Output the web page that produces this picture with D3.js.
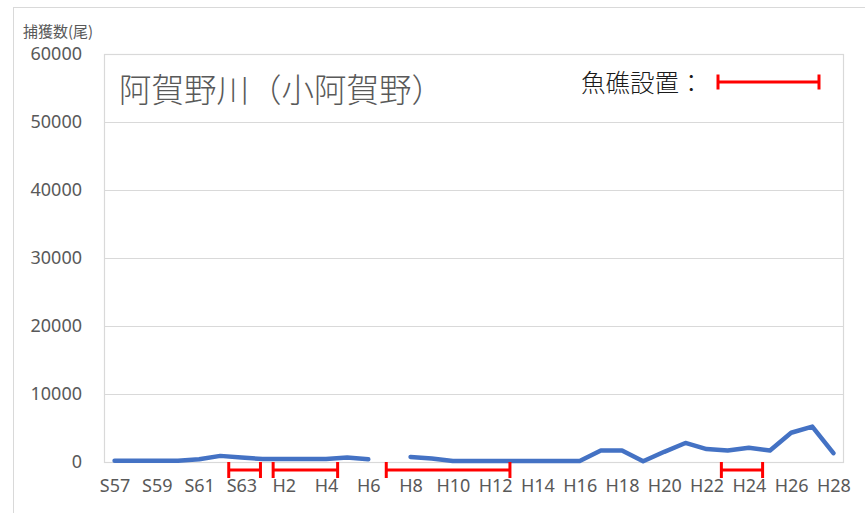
<!DOCTYPE html>
<html>
<head>
<meta charset="utf-8">
<script src="https://cdn.jsdelivr.net/npm/d3@7"></script>
<style>
  body { margin: 0; background: #fff; }
  svg { display: block; font-family: "Noto Sans CJK JP", "Noto Sans", sans-serif; }
</style>
</head>
<body>
<div id="chart"></div>
<script>
// 年度 (S57〜H28)
const years = ['S57','S58','S59','S60','S61','S62','S63',
  'H1','H2','H3','H4','H5','H6','H7','H8','H9','H10','H11','H12','H13','H14',
  'H15','H16','H17','H18','H19','H20','H21','H22','H23','H24','H25','H26','H27','H28'];

// 捕獲数(尾)  H7 は欠測
const catches = [200, 200, 200, 200, 400, 900, 650,
  450, 450, 450, 450, 650, 400, null, 750, 500, 150, 150, 150, 150, 150,
  150, 150, 1700, 1700, 100, 1500, 2800, 1900, 1700, 2100, 1700, 4300, 5200, 1300];

// 魚礁設置期間 (年度の位置、0 = S57)
const reefPeriods = [[5.4, 6.9], [7.5, 10.55], [12.85, 18.7], [28.7, 30.65]];

const yTicks = [0, 10000, 20000, 30000, 40000, 50000, 60000];
const xTickLabels = years.filter((d, i) => i % 2 === 0);

const width = 865, height = 513;
const plot = { left: 104, right: 844, top: 54, bottom: 462 };
const grey = '#d9d9d9', textCol = '#595959';

const svg = d3.select('#chart').append('svg')
  .attr('width', width).attr('height', height);

// 外枠
svg.append('rect')
  .attr('x', 13.5).attr('y', 7.5).attr('width', 870).attr('height', 520)
  .attr('fill', '#fff').attr('stroke', grey);

const x = d3.scalePoint().domain(years).range([plot.left, plot.right]).padding(0.5);
const xi = d3.scaleLinear().domain([-0.5, years.length - 0.5]).range([plot.left, plot.right]);
const y = d3.scaleLinear().domain([0, 60000]).range([plot.bottom, plot.top]);

// グリッド線
svg.append('g').selectAll('line')
  .data(yTicks)
  .join('line')
  .attr('x1', plot.left).attr('x2', plot.right)
  .attr('y1', d => Math.round(y(d)) + 0.5).attr('y2', d => Math.round(y(d)) + 0.5)
  .attr('stroke', grey).attr('stroke-width', 1.2);

// プロットエリア枠
svg.append('rect')
  .attr('x', plot.left + 0.5).attr('y', plot.top + 0.5)
  .attr('width', plot.right - plot.left - 1).attr('height', plot.bottom - plot.top)
  .attr('fill', 'none').attr('stroke', grey).attr('stroke-width', 1.2);

// Y軸
const yAxis = svg.append('g')
  .attr('transform', `translate(${plot.left - 22},0)`)
  .call(d3.axisLeft(y).tickValues(yTicks).tickSize(0).tickPadding(0).tickFormat(d3.format('d')));
yAxis.select('.domain').remove();
yAxis.selectAll('text').attr('fill', textCol).style('font-size', '18px')
  .style('font-family', '"Noto Sans", sans-serif');

// X軸
const xAxis = svg.append('g')
  .attr('transform', `translate(0,${plot.bottom + 17})`)
  .call(d3.axisBottom(x).tickValues(xTickLabels).tickSize(0).tickPadding(0));
xAxis.select('.domain').remove();
xAxis.selectAll('text').attr('fill', textCol).style('font-size', '18px')
  .style('font-family', '"Noto Sans", sans-serif');

// 軸ラベル
svg.append('text')
  .attr('x', 23).attr('y', 37)
  .attr('fill', textCol).style('font-size', '15px')
  .text('捕獲数(尾)');

// 捕獲数の折れ線
const line = d3.line()
  .defined(d => d != null)
  .x((d, i) => x(years[i]))
  .y(d => y(d));

svg.append('path')
  .datum(catches)
  .attr('d', line)
  .attr('fill', 'none')
  .attr('stroke', '#4472c4')
  .attr('stroke-width', 4.5)
  .attr('stroke-linejoin', 'round')
  .attr('stroke-linecap', 'round');

// 魚礁設置期間
function drawPeriod(g, x1, x2, yc, h) {
  g.append('line').attr('x1', x1).attr('x2', x2).attr('y1', yc).attr('y2', yc);
  g.append('line').attr('x1', x1).attr('x2', x1).attr('y1', yc - h / 2).attr('y2', yc + h / 2);
  g.append('line').attr('x1', x2).attr('x2', x2).attr('y1', yc - h / 2).attr('y2', yc + h / 2);
}
const periods = svg.append('g').attr('stroke', '#ff0000').attr('stroke-width', 3);
reefPeriods.forEach(p => drawPeriod(periods, xi(p[0]), xi(p[1]), plot.bottom + 8, 16));

// タイトル
svg.append('text')
  .attr('x', 119).attr('y', 102)
  .attr('fill', textCol).style('font-size', '32.5px').style('font-weight', 300)
  .text('阿賀野川（小阿賀野）');

// 凡例
svg.append('text')
  .attr('x', 581).attr('y', 92)
  .attr('fill', '#1a1a1a').style('font-size', '24.5px').style('font-weight', 300)
  .text('魚礁設置：');
const legend = svg.append('g').attr('stroke', '#ff0000').attr('stroke-width', 3);
drawPeriod(legend, 718, 819, 82, 15);
</script>
</body>
</html>
